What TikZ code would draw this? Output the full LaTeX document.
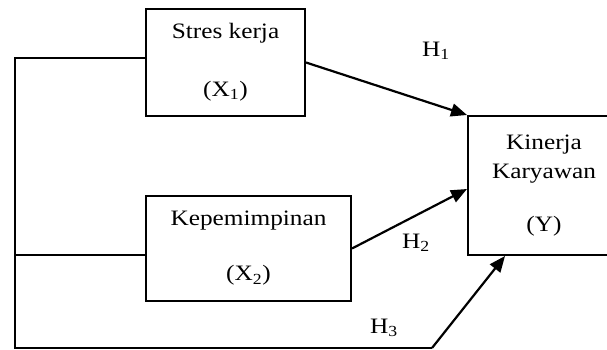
\documentclass[tikz,border=0pt]{standalone}
\usepackage{fontspec}
\setmainfont{Liberation Serif}
\usepackage{graphicx}
\usetikzlibrary{positioning, arrows.meta, calc}
\newcommand{\lebar}[1]{\scalebox{1.15}[1]{#1}}
\tikzstyle{arrow} = [line width=2.2pt,-{Triangle[length=16pt,width=13pt]}]
\tikzstyle{garis} = [line width=2pt]
\tikzstyle{variabel} = [rectangle, draw=black, line width=2pt, align=center, inner sep=0pt, font=\fontsize{22}{26}\selectfont]
\tikzstyle{hipotesis} = [inner sep=0pt, font=\fontsize{22}{26}\selectfont]

\begin{document}
\begin{tikzpicture}[x=1pt, y=1pt]
        \clip (0,0) rectangle (607,-350);
        \node (stres) [variabel, minimum width=159pt, minimum height=107pt] at (225.5,-62.5) {\lebar{Stres kerja}\\[32pt]\lebar{(X\textsubscript{1})}};
        \node (kepemimpinan) [variabel, minimum width=205pt, minimum height=105pt, below of=stres, node distance=186pt, xshift=23pt] {\lebar{Kepemimpinan}\\[29pt]\lebar{(X\textsubscript{2})}};
        \node (kinerja) [variabel, minimum width=152pt, minimum height=139pt, right of=kepemimpinan, node distance=295.5pt, yshift=63pt] {\lebar{Kinerja}\\[3pt]\lebar{Karyawan}\\[27pt]\lebar{(Y)}};

        \coordinate (pojok) at (15,-348);
        \coordinate (ujung) at (432,-348);

        \node (h1) [hipotesis] at (436,-51) {\lebar{H\textsubscript{1}}};
        \node (h2) [hipotesis] at (416,-243) {\lebar{H\textsubscript{2}}};
        \node (h3) [hipotesis] at (384,-328) {\lebar{H\textsubscript{3}}};

        \draw [garis] ([yshift=4.5pt]stres.west) -| (pojok) -- (ujung);
        \draw [garis] ([yshift=-6.5pt]kepemimpinan.west) -- ([yshift=-6.5pt]kepemimpinan.west -| pojok);
        \draw [arrow] (stres.east) -- (kinerja.north west);
        \draw [arrow] (kepemimpinan.east) -- ([yshift=-3.5pt]kinerja.west);
        \draw [arrow] (ujung) -- ([xshift=-39pt]kinerja.south);
\end{tikzpicture}
\end{document}
